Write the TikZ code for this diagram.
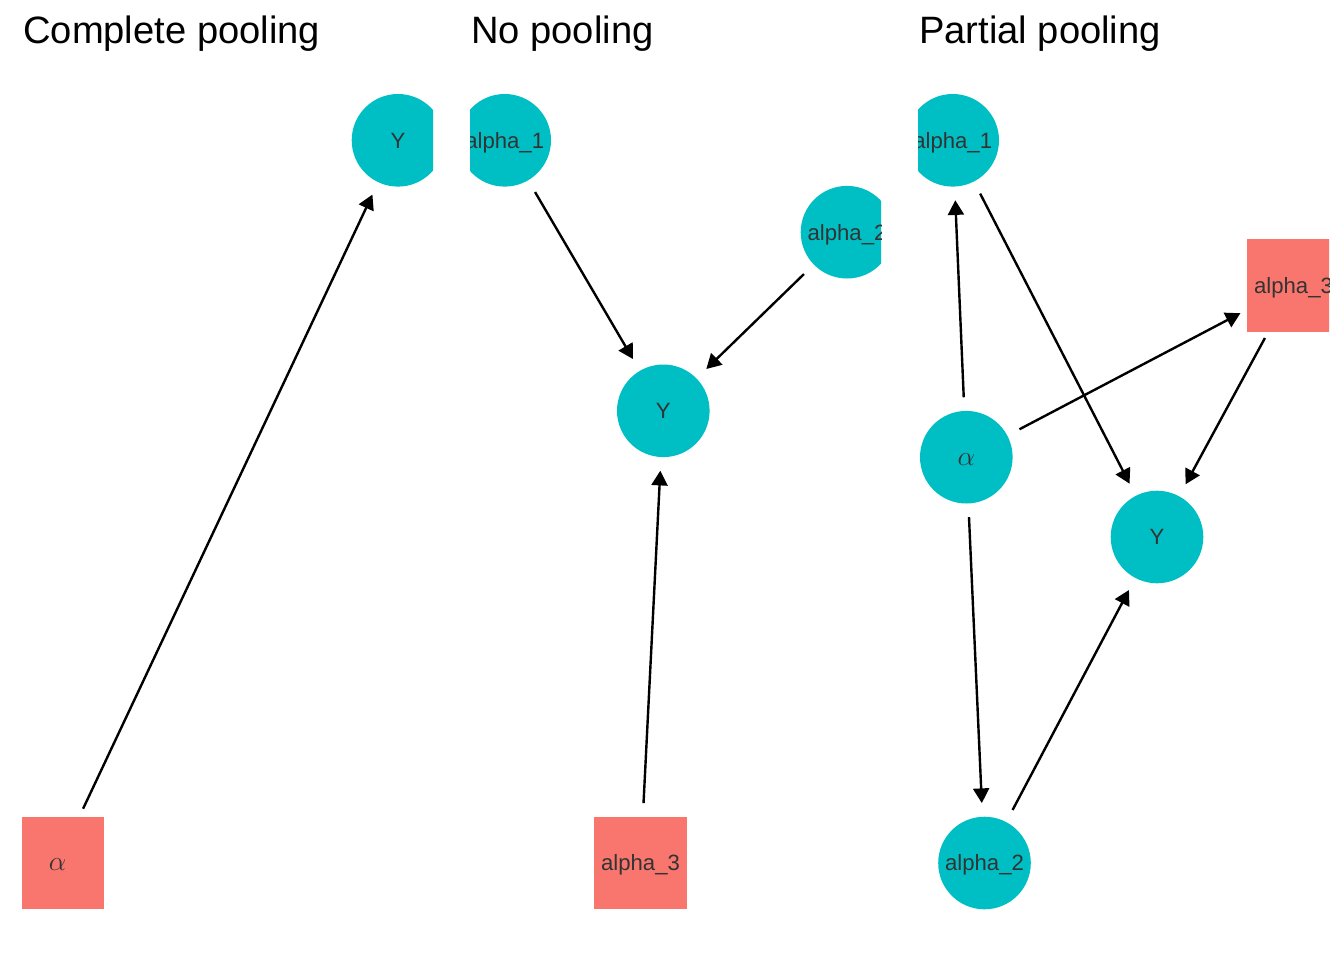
\documentclass[tikz,border=0pt]{standalone}
\usepackage{fontspec}
\setmainfont{Liberation Sans}
\usetikzlibrary{arrows.meta}
\definecolor{teal}{HTML}{00BFC4}
\definecolor{salmon}{HTML}{F8766D}
\definecolor{labelgrey}{HTML}{333333}
\newcommand{\alphalabel}{{\fontsize{22pt}{24pt}\selectfont$\alpha$}}
\begin{document}
\begin{tikzpicture}[x=0.75pt,y=-0.75pt,
  lab/.style={font=\fontsize{16.6pt}{18pt}\selectfont, text=labelgrey, text height=11.9pt, text depth=0pt, inner sep=0pt, minimum size=69.45pt},
  circnode/.style={lab, circle, fill=teal},
  sqnode/.style={lab, rectangle, fill=salmon},
  edge/.style={draw=black, line width=1.8pt, -{Triangle[length=11pt, width=12pt]}, shorten <=45pt, shorten >=45pt},
  ttl/.style={font=\fontsize{28.6pt}{32pt}\selectfont, anchor=base west, inner sep=0pt}]
\useasboundingbox (0,0) rectangle (1344,960);
\fill[white] (0,0) rectangle (1344,960);

% titles
\node[ttl] (t1) at (23,43) {Complete pooling};
\node[ttl] (t2) at (471,43) {No pooling};
\node[ttl] (t3) at (919,43) {Partial pooling};

% panel 1
\begin{scope}
\clip (22,0) rectangle (433,960);
\node[circnode] (p1Y) at (398,140.3) {Y};
\node[sqnode] (p1a) at (57.5,863) {\alphalabel};
\draw[edge] (p1a.center) -- (p1Y.center);
\end{scope}

% panel 2
\begin{scope}
\clip (470,0) rectangle (881,960);
\node[circnode] (p2a1) at (504.7,140.3) {alpha\_1};
\node[circnode] (p2a2) at (847,232.2) {alpha\_2};
\node[circnode] (p2Y) at (663.3,410.8) {Y};
\node[sqnode] (p2a3) at (640.5,863) {alpha\_3};
\draw[edge] (p2a1.center) -- (p2Y.center);
\draw[edge] (p2a2.center) -- (p2Y.center);
\draw[edge] (p2a3.center) -- (p2Y.center);
\end{scope}

% panel 3
\begin{scope}
\clip (918,0) rectangle (1329,960);
\node[circnode] (p3a1) at (952.7,140.3) {alpha\_1};
\node[sqnode] (p3a3) at (1293.5,285.3) {alpha\_3};
\node[circnode] (p3a) at (966.3,457.2) {\alphalabel};
\node[circnode] (p3Y) at (1157,537) {Y};
\node[circnode] (p3a2) at (984.5,863) {alpha\_2};
\draw[edge] (p3a.center) -- (p3a1.center);
\draw[edge] (p3a.center) -- (p3a3.center);
\draw[edge] (p3a.center) -- (p3a2.center);
\draw[edge] (p3a1.center) -- (p3Y.center);
\draw[edge] (p3a3.center) -- (p3Y.center);
\draw[edge] (p3a2.center) -- (p3Y.center);
\end{scope}
\end{tikzpicture}
\end{document}
